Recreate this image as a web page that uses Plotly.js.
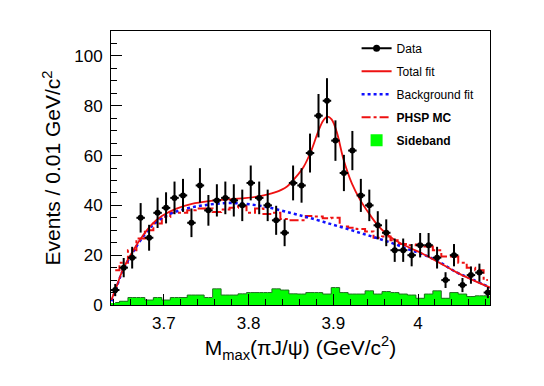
<!DOCTYPE html>
<html>
<head>
<meta charset="utf-8">
<script src="https://cdn.plot.ly/plotly-3.0.1.min.js"></script>
<style>html,body{margin:0;padding:0;background:#fff;}#chart{width:544px;height:386px;}</style>
</head>
<body>
<div id="chart"></div>
<script>
// Bin centers (0.01 GeV/c^2 bins)
const binCenters = [3.6425,3.6525,3.6625,3.6725,3.6825,3.6925,3.7025,3.7125,3.7225,3.7325,
  3.7425,3.7525,3.7625,3.7725,3.7825,3.7925,3.8025,3.8125,3.8225,3.8325,
  3.8425,3.8525,3.8625,3.8725,3.8825,3.8925,3.9025,3.9125,3.9225,3.9325,
  3.9425,3.9525,3.9625,3.9725,3.9825,3.9925,4.0025,4.0125,4.0225,4.0325,
  4.0425,4.0525,4.0625,4.0725,4.0825];

// Data events per bin
const dataCounts = [6,15,19,35,27,37,39,43,44,33,
  48,38,42,43,42,40,49,43,40,34,
  29,49,48,61,76,82,66,53,62,44,
  40,32,29,22,22,20,24,24,19,10,
  20,8,12,13,5];

// PHSP MC (histogram)
const phspMC = [14,17,22,26.7,30,32.7,35.3,37,37,38,
  38.7,38.7,37.3,38.3,39,39.6,37,38.7,36.5,37,
  34.5,34,34,35.7,35.5,34.8,35,31.5,31,30.5,
  29.5,27,27.5,26,24.5,24,24.3,23.5,22,19.5,
  19.5,17,15,14,10];

// Sideband histogram
const sideband = [1,1.5,3,3,2,3,2,3,3,4,
  4,3,6.5,4,4,4.5,5,5,5,6.5,
  6,4.5,4.4,5,5,4.4,7,5,4.4,4.4,
  5.7,4.4,5.4,5,4.4,4,2.7,4.4,5.7,2.7,
  5,4.4,3.4,3.7,3.7];

// Fit curves
const bkgX = [3.638,3.645,3.651,3.663,3.675,3.686,3.698,3.714,3.733,3.753,3.773,3.792,3.812,3.831,3.851,3.865,3.875,3.894,3.914,3.934,3.953,3.973,3.99,4.006,4.025,4.045,4.065,4.085];
const bkgY = [1.5,8,13.5,21,27.3,31.8,35,37.5,39.2,40.3,40.9,40.7,39.9,38.6,36.8,35.6,34.7,32.8,30.8,28.7,26.7,24.4,22.2,20.3,17.3,13.2,10.2,7];

const totX = [3.638,3.645,3.651,3.663,3.675,3.686,3.698,3.714,3.733,3.753,3.773,3.792,3.812,3.831,3.845,3.855,3.865,3.874,3.882,3.888,3.893,3.898,3.904,3.912,3.922,3.932,3.942,3.952,3.962,3.972,3.99,4.006,4.025,4.045,4.065,4.085];
const totY = [2,8.3,13.8,21.5,27.8,32.5,35.8,38.6,40.6,41.7,42.3,42.8,43.6,45.2,47.5,51,55.5,62,69.5,74,75.6,74.5,69.5,58.5,48.7,42,36.8,32.2,28.8,26.2,23,20.5,17,13.2,10,7];

const FONT = 'Liberation Sans, Arial, Helvetica, sans-serif';
const RED = '#ee1111', BLUE = '#1010ff', GREEN = '#00ff00', DKGREEN = '#1f6f1f';

const traces = [
  {type:'bar', x: binCenters, y: sideband, width: 0.01,
   marker:{color: GREEN, line:{width:0}}, name:'<b>Sideband</b>',
   legendgroup:'e', legendrank:5, hoverinfo:'skip'},
  {type:'scatter', mode:'lines', x: binCenters, y: sideband,
   line:{color: DKGREEN, width:1, shape:'hvh'}, showlegend:false, hoverinfo:'skip'},
  {type:'scatter', mode:'lines', x: binCenters, y: phspMC,
   line:{color: RED, width:2, dash:'dashdot', shape:'hvh'}, name:'<b>PHSP MC</b>',
   legendgroup:'d', legendrank:4},
  {type:'scatter', mode:'lines', x: bkgX, y: bkgY,
   line:{color: BLUE, width:2.5, dash:'dot', shape:'spline', smoothing:1}, name:'Background fit',
   legendgroup:'c', legendrank:3},
  {type:'scatter', mode:'lines', x: totX, y: totY,
   line:{color: RED, width:1.8, shape:'spline', smoothing:1}, name:'Total fit',
   legendgroup:'b', legendrank:2},
  {type:'scatter', mode:'markers', x: binCenters, y: dataCounts,
   marker:{color:'black', size:6, symbol:'circle'},
   error_y:{type:'sqrt', color:'black', thickness:2, width:0},
   error_x:{type:'constant', value:0.005, color:'black', thickness:2, width:0},
   showlegend:false},
  {type:'scatter', mode:'lines+markers', x:[null], y:[null],
   marker:{color:'black', size:7, symbol:'circle'}, line:{color:'black', width:2},
   name:'Data', legendgroup:'a', legendrank:1}
];

const layout = {
  width:544, height:386,
  margin:{l:111, r:54, t:31, b:81, pad:0},
  paper_bgcolor:'white', plot_bgcolor:'white',
  font:{family: FONT, color:'black', size:17},
  showlegend:true,
  bargap:0,
  legend:{x:0.648, y:0.99, xanchor:'left', yanchor:'top', bgcolor:'rgba(0,0,0,0)',
    font:{family: FONT, size:12, color:'black'}, traceorder:'grouped', tracegroupgap:4},
  xaxis:{range:[3.6375, 4.085], tick0:3.7, dtick:0.1, ticks:'inside', ticklen:11, tickwidth:1,
    tickcolor:'black', showline:true, linecolor:'black', linewidth:1, mirror:true,
    showgrid:false, zeroline:false, tickfont:{family:FONT, size:17},
    minor:{dtick:0.02, ticks:'inside', ticklen:6, tickcolor:'black', showgrid:false},
    ticklabelstandoff:3,
    title:{text:'M<sub>max</sub>(πJ/ψ) (GeV/c<sup>2</sup>)', font:{family:FONT, size:21}, standoff:6}},
  yaxis:{range:[0, 110], tick0:0, dtick:20, ticks:'inside', ticklen:11, tickwidth:1,
    tickcolor:'black', showline:true, linecolor:'black', linewidth:1, mirror:true,
    showgrid:false, zeroline:false, tickfont:{family:FONT, size:17},
    minor:{dtick:5, ticks:'inside', ticklen:6, tickcolor:'black', showgrid:false},
    ticklabelstandoff:4,
    title:{text:'Events / 0.01 GeV/c<sup>2</sup>', font:{family:FONT, size:21}, standoff:7}}
};

Plotly.newPlot('chart', traces, layout, {displayModeBar:false, staticPlot:true});
</script>
</body>
</html>
